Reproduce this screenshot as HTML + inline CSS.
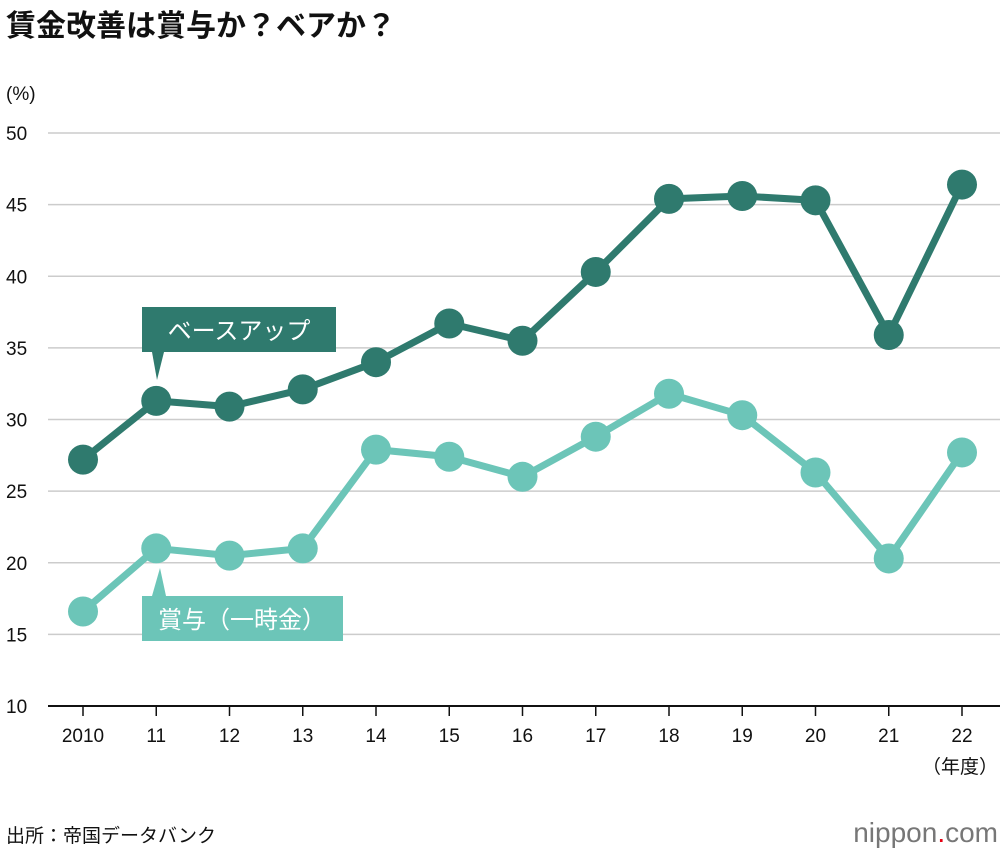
<!DOCTYPE html>
<html><head><meta charset="utf-8"><style>
body{margin:0;background:#fff;}
svg text{font-family:"Liberation Sans","Noto Sans CJK JP",sans-serif;}
</style></head><body>
<svg id="chart" width="1000" height="856" xmlns="http://www.w3.org/2000/svg">
<text x="6" y="36" font-size="30" font-weight="bold" fill="#111">賃金改善は賞与か？ベアか？</text>
<text x="6" y="100" font-size="19" fill="#111">(%)</text>
<g id="grid"></g><g id="xaxis"></g><g id="series"></g>
<g>
<polygon points="152,352 164,352 157,380" fill="#2f7a6e"/>
<rect x="142" y="307" width="194" height="45" fill="#2f7a6e"/>
<text x="239" y="339" font-size="24" fill="#fff" text-anchor="middle">ベースアップ</text></g>
<g>
<polygon points="152,596 166,596 160,568" fill="#6cc5b8"/>
<rect x="142" y="596" width="201" height="45" fill="#6cc5b8"/>
<text x="242" y="628" font-size="24" fill="#fff" text-anchor="middle">賞与（一時金）</text></g>
<text x="998" y="773" font-size="19" fill="#111" text-anchor="end">（年度）</text>
<text x="6" y="842" font-size="19" fill="#111">出所：帝国データバンク</text>
<text x="998" y="842" font-size="28" fill="#777" text-anchor="end">nippon<tspan fill="#e60012">.</tspan>com</text>
</svg>
<script>
const categories=["2010","11","12","13","14","15","16","17","18","19","20","21","22"];
const baseUp=[27.2,31.3,30.9,32.1,34.0,36.7,35.5,40.3,45.4,45.6,45.3,35.9,46.4];
const bonus=[16.6,21.0,20.5,21.0,27.9,27.4,26.0,28.8,31.8,30.3,26.3,20.3,27.7];
const yTicks=[10,15,20,25,30,35,40,45,50];
const NS="http://www.w3.org/2000/svg";
const x=i=>83+i*73.25, y=v=>706-(v-10)*14.325;
function mk(t,a,p){const e=document.createElementNS(NS,t);for(const k in a)e.setAttribute(k,a[k]);p.appendChild(e);return e;}
const grid=document.getElementById('grid');
yTicks.forEach(v=>{
 if(v>10){const l=mk('line',{x1:48,x2:1000,y1:y(v),y2:y(v),stroke:'#ccc','stroke-width':1.5},grid);
 
 }
 const t=mk('text',{x:6,y:y(v)+7,'font-size':19,fill:'#111'},grid);t.textContent=v;
 
 
});
const xa=document.getElementById('xaxis');
const ax=mk('line',{x1:48,x2:1000,y1:706,y2:706,stroke:'#111','stroke-width':2},xa);


categories.forEach((c,i)=>{
 mk('line',{x1:x(i),x2:x(i),y1:706,y2:716,stroke:'#111','stroke-width':1.5},xa);
 const t=mk('text',{x:x(i),y:742,'font-size':19,fill:'#111','text-anchor':'middle'},xa);t.textContent=c;
 
 
});
const sg=document.getElementById('series');
function draw(d,col,name){
 const p=mk('polyline',{points:d.map((v,i)=>x(i)+','+y(v)).join(' '),fill:'none',stroke:col,'stroke-width':7,'stroke-linejoin':'round'},sg);
 
 
 d.forEach((v,i)=>{const c=mk('circle',{cx:x(i),cy:y(v),r:15,fill:col},sg);
 
 });
}
draw(bonus,'#6cc5b8','bonus');
draw(baseUp,'#2f7a6e','base-up');
</script>
</body></html>
